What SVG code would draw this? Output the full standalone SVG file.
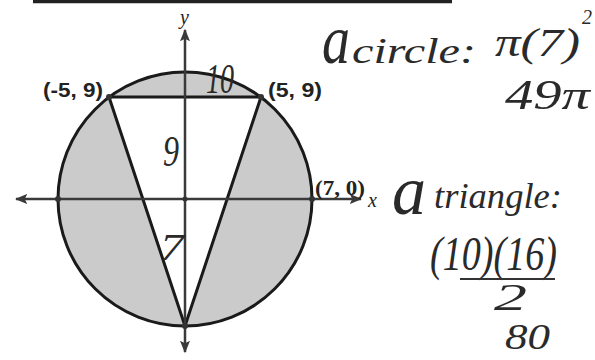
<svg xmlns="http://www.w3.org/2000/svg" width="595" height="360" viewBox="0 0 595 360">
<style>
.lbl{font-family:"Liberation Sans",Arial,sans-serif;font-weight:bold;font-size:20px;fill:#222}
.lbls{font-family:"Liberation Serif","Times New Roman",serif;font-weight:bold;font-size:21px;fill:#222}
.ax{font-family:"Liberation Serif","Times New Roman",serif;font-style:italic;font-size:20px;fill:#222}
.hw{font-family:"Liberation Serif","Times New Roman",serif;font-style:italic;fill:#2a2a2a}
.axis{stroke:#3a3a3a;stroke-width:2.5;fill:none}
.dot{fill:#333}
</style>
<defs>
<marker id="arr" viewBox="0 0 10 10" refX="9" refY="5" markerWidth="5" markerHeight="5" orient="auto-start-reverse" markerUnits="strokeWidth">
<path d="M0,1 L10,5 L0,9 L2,5 Z" fill="#3a3a3a"/>
</marker>
</defs>
<rect x="0" y="0" width="595" height="360" fill="#fff"/>
<line x1="33" y1="1.5" x2="452" y2="1.5" stroke="#222" stroke-width="3.5"/>
<g id="circle">
<circle cx="185" cy="199" r="127" fill="#cbcbcb" stroke="#1a1a1a" stroke-width="3"/>
</g>
<g id="triangle">
<polygon points="109,97 261,97 185,326" fill="#fff" stroke="#1a1a1a" stroke-width="3" stroke-linejoin="round"/>
</g>
<g id="connectors">
<line class="axis" x1="16" y1="199" x2="361" y2="199" marker-start="url(#arr)" marker-end="url(#arr)"/>
<line class="axis" x1="185" y1="352" x2="185" y2="30" marker-start="url(#arr)" marker-end="url(#arr)"/>
</g>
<g id="points">
<circle class="dot" cx="58" cy="199" r="3"/>
<circle class="dot" cx="312" cy="199" r="3"/>
<circle class="dot" cx="185" cy="199" r="2.5"/>
<circle class="dot" cx="109" cy="97" r="3"/>
<circle class="dot" cx="261" cy="97" r="3"/>
<circle class="dot" cx="185" cy="326" r="3"/>
</g>
<g id="labels">
<text class="ax" x="180" y="24">y</text>
<text class="ax" x="368" y="207">x</text>
<text class="lbl" x="43" y="97" textLength="60" lengthAdjust="spacingAndGlyphs">(-5, 9)</text>
<text class="lbl" x="268" y="97" textLength="54" lengthAdjust="spacingAndGlyphs">(5, 9)</text>
<text class="lbls" x="315" y="195" textLength="50" lengthAdjust="spacingAndGlyphs">(7, 0)</text>
</g>
<g id="handwriting">
<text class="hw" x="206" y="93" font-size="42" textLength="28" lengthAdjust="spacingAndGlyphs">10</text>
<text class="hw" x="163" y="166" font-size="44" textLength="16" lengthAdjust="spacingAndGlyphs">9</text>
<text class="hw" x="160" y="260" font-size="38" textLength="24" lengthAdjust="spacingAndGlyphs">7</text>
<text class="hw" x="322" y="63" font-size="70" textLength="28" lengthAdjust="spacingAndGlyphs">a</text>
<text class="hw" x="352" y="63" font-size="36" textLength="124" lengthAdjust="spacingAndGlyphs">circle:</text>
<text class="hw" x="495" y="56" font-size="40" textLength="85" lengthAdjust="spacingAndGlyphs">π(7)</text>
<text class="hw" x="582" y="24" font-size="20">2</text>
<text class="hw" x="505" y="109" font-size="42" textLength="85" lengthAdjust="spacingAndGlyphs">49π</text>
<text class="hw" x="392" y="214" font-size="70" textLength="34" lengthAdjust="spacingAndGlyphs">a</text>
<text class="hw" x="434" y="208" font-size="36" textLength="128" lengthAdjust="spacingAndGlyphs">triangle:</text>
<text class="hw" x="430" y="270" font-size="48" textLength="127" lengthAdjust="spacingAndGlyphs">(10)(16)</text>
<line x1="460" y1="279" x2="555" y2="279" stroke="#333" stroke-width="2"/>
<text class="hw" x="494" y="310" font-size="38" textLength="33" lengthAdjust="spacingAndGlyphs">2</text>
<text class="hw" x="505" y="349" font-size="36" textLength="45" lengthAdjust="spacingAndGlyphs">80</text>
</g>
</svg>
